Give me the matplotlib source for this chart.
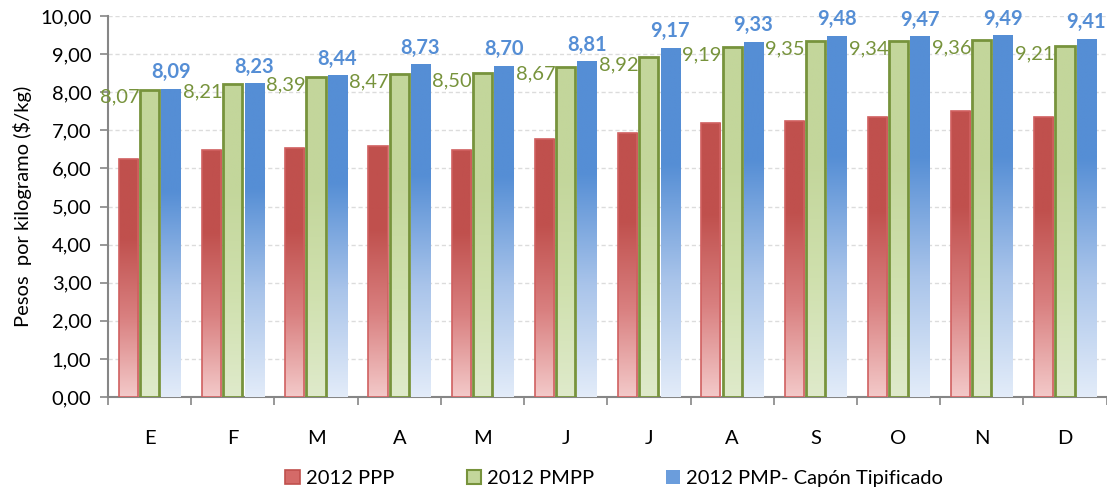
import numpy as np
import matplotlib.pyplot as plt
from matplotlib.colors import LinearSegmentedColormap
from matplotlib.patches import Patch

plt.rcParams['font.family'] = ['Lato', 'DejaVu Sans']

months = ['E', 'F', 'M', 'A', 'M', 'J', 'J', 'A', 'S', 'O', 'N', 'D']
ppp = [6.26, 6.48, 6.54, 6.59, 6.48, 6.78, 6.92, 7.18, 7.25, 7.36, 7.51, 7.34]
pmpp = [8.07, 8.21, 8.39, 8.47, 8.50, 8.67, 8.92, 9.19, 9.35, 9.34, 9.36, 9.21]
pmp_capon = [8.09, 8.23, 8.44, 8.73, 8.70, 8.81, 9.17, 9.33, 9.48, 9.47, 9.49, 9.41]
series_names = ['2012 PPP', '2012 PMPP', '2012 PMP- Capón Tipificado']


def fmt(v):
    return f'{v:.2f}'.replace('.', ',')


# gradients, bottom colour first
grad_red = LinearSegmentedColormap.from_list('r', ['#f3c9c9', '#d98080', '#c0504d', '#c0504d'])
grad_green = LinearSegmentedColormap.from_list('g', ['#dfeacb', '#cfe0ad', '#c3d69b', '#c3d69b'])
grad_blue = LinearSegmentedColormap.from_list('b', ['#e3ecf9', '#a9c4ea', '#558ed5', '#558ed5'])


def fill_gradient(ax, bars, cmap):
    g = np.linspace(0, 1, 256).reshape(-1, 1)
    for b in bars:
        x0, w, h = b.get_x(), b.get_width(), b.get_height()
        im = ax.imshow(g, cmap=cmap, origin='lower', aspect='auto',
                       extent=[x0, x0 + w, 0, h], zorder=b.get_zorder() - 0.1,
                       interpolation='bilinear')
        im.set_clip_path(b)


fig = plt.figure(figsize=(11.07, 4.93), dpi=100)
ax = fig.add_axes([0.0976, 0.1947, 0.902, 0.7728])

x = np.arange(len(months))
w = 0.23
off = 0.255

b1 = ax.bar(x - off, ppp, w, facecolor='none', edgecolor='#d06060', linewidth=1.2, zorder=3)
b2 = ax.bar(x, pmpp, w, facecolor='none', edgecolor='#77933c', linewidth=2, zorder=3)
b3 = ax.bar(x + off, pmp_capon, w, facecolor='none', edgecolor='none', linewidth=0, zorder=3)
fill_gradient(ax, b1, grad_red)
fill_gradient(ax, b2, grad_green)
fill_gradient(ax, b3, grad_blue)

for xi, v in zip(x, pmpp):
    ax.text(xi - w / 2 - 0.01, v - 0.2, fmt(v), ha='right', va='center',
            fontsize=14.5, color='#77933c', zorder=5)
for xi, v in zip(x + off, pmp_capon):
    ax.text(xi, v + 0.17, fmt(v), ha='center', va='bottom',
            fontsize=14.5, color='#558ed5', fontweight='bold', zorder=5)

ax.set_xlim(-0.5, 11.46)
ax.set_ylim(0, 10)
ax.set_yticks(np.arange(0, 11, 1))
ax.set_yticklabels([fmt(v) for v in np.arange(0, 11, 1)], fontsize=14.5)
ax.set_xticks(x)
ax.set_xticklabels(months, fontsize=14.5)
ax.set_xticks(np.arange(-0.5, 12, 1), minor=True)
ax.tick_params(axis='x', which='major', length=0, pad=24)
ax.tick_params(axis='x', which='minor', length=6, color='#868686', width=1.2)
ax.tick_params(axis='y', length=6, color='#868686', width=1.2, pad=6)
ax.set_ylabel('Pesos  por kilogramo ($/kg)', fontsize=14.5, labelpad=6)

ax.yaxis.grid(True, linestyle=(0, (3, 2)), color='#dcdcdc', linewidth=1.0, zorder=0)
ax.set_axisbelow(True)
for s in ['top', 'right']:
    ax.spines[s].set_visible(False)
for s in ['left', 'bottom']:
    ax.spines[s].set_color('#868686')
    ax.spines[s].set_linewidth(1.5)

handles = [Patch(facecolor='#d46a68', edgecolor='#c0504d', linewidth=1.2),
           Patch(facecolor='#c3d69b', edgecolor='#77933c', linewidth=1.5),
           Patch(facecolor='#6b9ddc', edgecolor='none')]
fig.legend(handles, series_names, loc='center', bbox_to_anchor=(0.555, 0.03), ncol=3,
           frameon=False, fontsize=14.5, handlelength=0.7, handleheight=0.7,
           handletextpad=0.3, columnspacing=3.6)

fig.savefig('out.png', dpi=100)
